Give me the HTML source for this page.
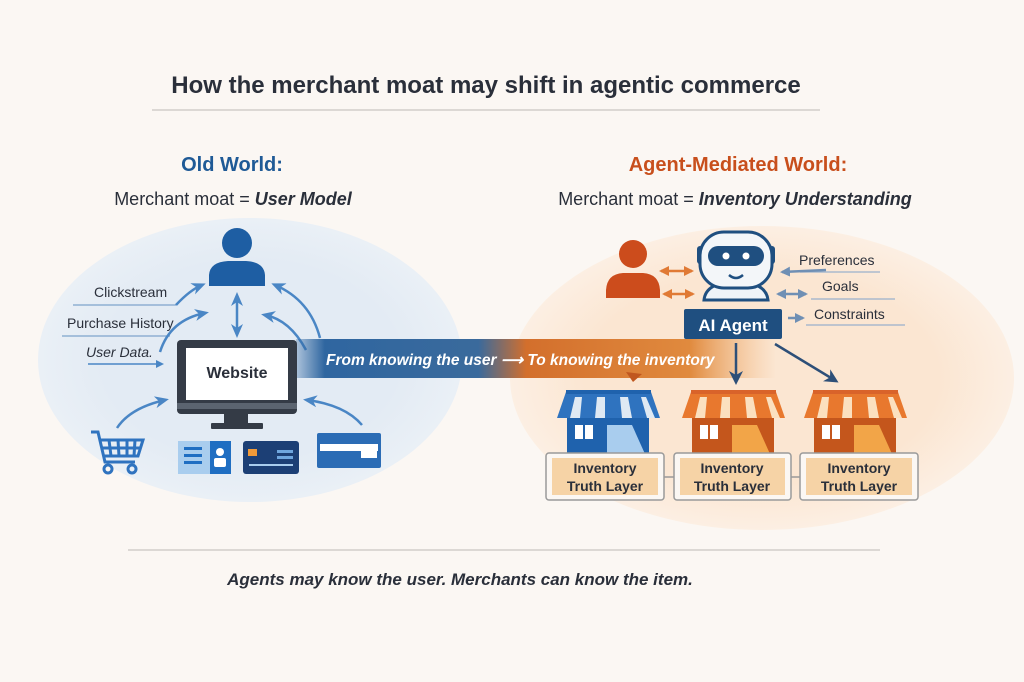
<!DOCTYPE html>
<html><head><meta charset="utf-8"><style>
html,body{margin:0;padding:0;background:#fbf7f3;}
svg{display:block;font-family:"Liberation Sans",sans-serif;}
</style></head><body>
<svg width="1024" height="682" viewBox="0 0 1024 682" xmlns="http://www.w3.org/2000/svg">
<defs>
<linearGradient id="band" x1="0" x2="1" y1="0" y2="0">
<stop offset="0" stop-color="#2f66a0" stop-opacity="0.3"/>
<stop offset="0.06" stop-color="#2f66a0"/>
<stop offset="0.38" stop-color="#3a6a9c"/>
<stop offset="0.48" stop-color="#d36f2c"/>
<stop offset="0.82" stop-color="#e08a3e"/>
<stop offset="1" stop-color="#f2b070" stop-opacity="0"/>
</linearGradient>
<radialGradient id="lg" cx="0.5" cy="0.5" r="0.5"><stop offset="0.7" stop-color="#e3ebf4"/><stop offset="1" stop-color="#eaf0f6"/></radialGradient>
<radialGradient id="rg" cx="0.5" cy="0.5" r="0.5"><stop offset="0.7" stop-color="#fbe6d2"/><stop offset="1" stop-color="#fcefe3"/></radialGradient>
<marker id="ab" markerWidth="8" markerHeight="8" refX="6" refY="4" orient="auto" markerUnits="userSpaceOnUse"><path d="M0,0 L8,4 L0,8 Z" fill="#4a86c5"/></marker>
<marker id="ab2" markerWidth="14" markerHeight="12" refX="10" refY="6" orient="auto-start-reverse" markerUnits="userSpaceOnUse"><path d="M0,0 L14,6 L0,12 L4,6Z" fill="#4a86c5"/></marker>
<marker id="ao" markerWidth="10" markerHeight="10" refX="8" refY="5" orient="auto-start-reverse" markerUnits="userSpaceOnUse"><path d="M0,0 L10,5 L0,10 Z" fill="#e07a35"/></marker>
<marker id="ag" markerWidth="10" markerHeight="10" refX="8" refY="5" orient="auto-start-reverse" markerUnits="userSpaceOnUse"><path d="M0,0 L10,5 L0,10 Z" fill="#6f8fb4"/></marker>
<marker id="ad" markerWidth="14" markerHeight="14" refX="11" refY="7" orient="auto" markerUnits="userSpaceOnUse"><path d="M0,0 L14,7 L0,14 L4,7Z" fill="#2d4f78"/></marker>
</defs>

<text x="486" y="93" text-anchor="middle" font-size="24" font-weight="bold" fill="#2a2f3a">How the merchant moat may shift in agentic commerce</text>
<line x1="152" y1="110" x2="820" y2="110" stroke="#c9c5c1" stroke-width="1.2"/>

<ellipse cx="250" cy="360" rx="212" ry="142" fill="url(#lg)"/>
<ellipse cx="762" cy="378" rx="252" ry="152" fill="url(#rg)"/>

<text x="232" y="171" text-anchor="middle" font-size="20" font-weight="bold" fill="#1f5a96">Old World:</text>
<text x="233" y="205" text-anchor="middle" font-size="18" fill="#2a2f3a">Merchant moat = <tspan font-weight="bold" font-style="italic">User Model</tspan></text>
<text x="738" y="171" text-anchor="middle" font-size="20" font-weight="bold" fill="#c84f1c">Agent-Mediated World:</text>
<text x="735" y="205" text-anchor="middle" font-size="18" fill="#2a2f3a">Merchant moat = <tspan font-weight="bold" font-style="italic">Inventory Understanding</tspan></text>

<circle cx="237" cy="243" r="15" fill="#1e5ea3"/>
<path d="M209,286 L209,275 Q210,262 228,261 L246,261 Q264,262 265,275 L265,286 Z" fill="#1e5ea3"/>

<text x="94" y="297" font-size="14" fill="#2a2f3a">Clickstream</text>
<line x1="73" y1="305" x2="176" y2="305" stroke="#7ea4cc" stroke-width="1.2"/>
<text x="67" y="328" font-size="14" fill="#2a2f3a">Purchase History</text>
<line x1="62" y1="336" x2="170" y2="336" stroke="#7ea4cc" stroke-width="1.2"/>
<text x="86" y="357" font-size="14" font-style="italic" fill="#2a2f3a">User Data.</text>
<line x1="88" y1="364" x2="162" y2="364" stroke="#4a86c5" stroke-width="1.5" marker-end="url(#ab)"/>

<g fill="none" stroke="#4a86c5" stroke-width="2.5">
<path d="M176,305 Q190,290 202,285" marker-end="url(#ab2)"/>
<path d="M160,352 Q170,320 205,313" marker-end="url(#ab2)"/>
<path d="M237,296 L237,334" marker-end="url(#ab2)" marker-start="url(#ab2)"/>
<path d="M306,350 Q290,320 265,315" marker-end="url(#ab2)"/>
<path d="M320,338 Q310,300 275,285" marker-end="url(#ab2)"/>
<path d="M117,428 Q130,408 165,400" marker-end="url(#ab2)"/>
<path d="M362,425 Q345,405 307,400" marker-end="url(#ab2)"/>
</g>

<rect x="296" y="339" width="480" height="39" fill="url(#band)"/>
<text x="326" y="365" font-size="15.5" font-weight="bold" font-style="italic" fill="#fff">From knowing the user ⟶ To knowing the inventory</text>

<rect x="177" y="340" width="120" height="74" rx="4" fill="#343b46"/>
<rect x="186" y="348" width="102" height="52" fill="#fff"/>
<rect x="177" y="403" width="120" height="6" fill="#5b6470"/>
<rect x="224" y="414" width="24" height="10" fill="#343b46"/>
<rect x="211" y="423" width="52" height="6" rx="1" fill="#343b46"/>
<text x="237" y="378" text-anchor="middle" font-size="16" font-weight="bold" fill="#2a2f3a">Website</text>

<g fill="none" stroke="#2f73bf" stroke-width="3">
<path d="M91,432 L98,432 L105,462 L135,462"/>
<path d="M100,440 L143,440 L138,456 L104,456"/>
<path d="M109,440 L111,456 M118,440 L119,456 M127,440 L127,456 M135,440 L134,456 M102,448 L141,448"/>
</g>
<circle cx="108" cy="469" r="4" fill="none" stroke="#2f73bf" stroke-width="3"/>
<circle cx="132" cy="469" r="4" fill="none" stroke="#2f73bf" stroke-width="3"/>
<rect x="178" y="441" width="53" height="33" fill="#a9cdee"/>
<rect x="210" y="441" width="21" height="33" fill="#1f6ec2"/>
<rect x="184" y="447" width="18" height="3" fill="#1f6ec2"/><rect x="184" y="454" width="18" height="3" fill="#1f6ec2"/><rect x="184" y="461" width="18" height="3" fill="#1f6ec2"/>
<circle cx="220" cy="452" r="4" fill="#fff"/><rect x="214" y="458" width="12" height="9" rx="2" fill="#fff"/>
<rect x="243" y="441" width="56" height="33" rx="3" fill="#1c3f75"/>
<rect x="248" y="449" width="9" height="7" fill="#f09a3a"/>
<rect x="277" y="450" width="16" height="3" fill="#6fa6de"/><rect x="277" y="456" width="16" height="3" fill="#6fa6de"/>
<rect x="249" y="464" width="44" height="2" fill="#a9cdee"/>
<rect x="317" y="433" width="64" height="35" rx="2" fill="#2b6cb5"/>
<rect x="320" y="444" width="58" height="7" fill="#fff"/>
<rect x="361" y="447" width="16" height="11" fill="#fff"/>

<circle cx="633" cy="254" r="14" fill="#cc4c1c"/>
<path d="M606,298 L606,290 Q607,274 623,273 L643,273 Q659,274 660,290 L660,298 Z" fill="#cc4c1c"/>
<g stroke="#e07a35" stroke-width="2.5">
<line x1="661" y1="271" x2="692" y2="271" marker-start="url(#ao)" marker-end="url(#ao)"/>
<line x1="664" y1="294" x2="693" y2="294" marker-start="url(#ao)" marker-end="url(#ao)"/>
</g>

<path d="M704,300 Q706,282 736,282 Q766,282 768,300 Z" fill="#eef3f8" stroke="#1f4f80" stroke-width="3"/>
<rect x="697" y="246" width="6" height="18" rx="3" fill="#1f4f80"/>
<rect x="769" y="246" width="6" height="18" rx="3" fill="#1f4f80"/>
<rect x="700" y="232" width="72" height="56" rx="24" fill="#f3f6f9" stroke="#1f4f80" stroke-width="3"/>
<rect x="708" y="246" width="56" height="20" rx="10" fill="#1f4f80"/>
<circle cx="726" cy="256" r="3.5" fill="#fff"/><circle cx="746" cy="256" r="3.5" fill="#fff"/>
<path d="M729,275 Q736,281 743,275" fill="none" stroke="#1f4f80" stroke-width="2.5"/>
<rect x="684" y="309" width="98" height="30" rx="2" fill="#1f4f80"/>
<text x="733" y="331" text-anchor="middle" font-size="17" font-weight="bold" fill="#fff">AI Agent</text>

<g font-size="14" fill="#2a2f3a">
<text x="799" y="265">Preferences</text>
<text x="822" y="291">Goals</text>
<text x="814" y="319">Constraints</text>
</g>
<g stroke="#9ab1cc" stroke-width="1.2">
<line x1="800" y1="272" x2="880" y2="272"/><line x1="811" y1="299" x2="895" y2="299"/><line x1="806" y1="325" x2="905" y2="325"/>
</g>
<g stroke="#6f8fb4" stroke-width="2.5">
<line x1="826" y1="270" x2="782" y2="272" marker-end="url(#ag)"/>
<line x1="778" y1="294" x2="806" y2="294" marker-start="url(#ag)" marker-end="url(#ag)"/>
<line x1="788" y1="318" x2="803" y2="318" marker-end="url(#ag)"/>
</g>
<g stroke="#2d4f78" stroke-width="2.5">
<line x1="736" y1="343" x2="736" y2="382" marker-end="url(#ad)"/>
<line x1="775" y1="344" x2="836" y2="381" marker-end="url(#ad)"/>
</g>
<path d="M626,372 L642,374 L633,382 Z" fill="#c0571f"/>

<rect x="567" y="417" width="82" height="37" fill="#1f62ad"/>
<rect x="575" y="425" width="18" height="14" fill="#fff"/><line x1="584" y1="425" x2="584" y2="439" stroke="#1f62ad" stroke-width="2"/>
<path d="M607,425 L632,425 L645,454 L607,454 Z" fill="#a9cdee"/>
<path d="M566,392 L651,392 L660,418 L557,418 Z" fill="#2f73bf"/>
<path d="M575,397 L582,397 L580,418 L570,418Z M597,397 L605,397 L605,418 L595,418Z M620,397 L628,397 L632,418 L622,418Z M641,397 L646,397 L655,418 L647,418Z" fill="#dfe9f3"/>
<rect x="566" y="390" width="85" height="4" fill="#1f62ad"/>
<rect x="692" y="417" width="82" height="37" fill="#c4561c"/>
<rect x="700" y="425" width="18" height="14" fill="#fff"/><line x1="709" y1="425" x2="709" y2="439" stroke="#c4561c" stroke-width="2"/>
<path d="M732,425 L757,425 L770,454 L732,454 Z" fill="#f2a548"/>
<path d="M691,392 L776,392 L785,418 L682,418 Z" fill="#e8782e"/>
<path d="M700,397 L707,397 L705,418 L695,418Z M722,397 L730,397 L730,418 L720,418Z M745,397 L753,397 L757,418 L747,418Z M766,397 L771,397 L780,418 L772,418Z" fill="#fbe0bf"/>
<rect x="691" y="390" width="85" height="4" fill="#d9632a"/>
<rect x="814" y="417" width="82" height="37" fill="#c4561c"/>
<rect x="822" y="425" width="18" height="14" fill="#fff"/><line x1="831" y1="425" x2="831" y2="439" stroke="#c4561c" stroke-width="2"/>
<path d="M854,425 L879,425 L892,454 L854,454 Z" fill="#f2a548"/>
<path d="M813,392 L898,392 L907,418 L804,418 Z" fill="#e8782e"/>
<path d="M822,397 L829,397 L827,418 L817,418Z M844,397 L852,397 L852,418 L842,418Z M867,397 L875,397 L879,418 L869,418Z M888,397 L893,397 L902,418 L894,418Z" fill="#fbe0bf"/>
<rect x="813" y="390" width="85" height="4" fill="#d9632a"/>

<line x1="664" y1="477" x2="674" y2="477" stroke="#999" stroke-width="1.5"/>
<line x1="791" y1="477" x2="800" y2="477" stroke="#999" stroke-width="1.5"/>
<g stroke="#9a9a9a" stroke-width="1.5" fill="#fbf7f3">
<rect x="546" y="453" width="118" height="47" rx="3"/>
<rect x="674" y="453" width="117" height="47" rx="3"/>
<rect x="800" y="453" width="118" height="47" rx="3"/>
</g>
<g fill="#f6d3a6">
<rect x="552" y="458" width="106" height="37"/><rect x="680" y="458" width="105" height="37"/><rect x="806" y="458" width="106" height="37"/>
</g>
<g font-size="14" font-weight="bold" fill="#2a2f3a" text-anchor="middle">
<text x="605" y="473">Inventory</text><text x="605" y="491">Truth Layer</text>
<text x="732" y="473">Inventory</text><text x="732" y="491">Truth Layer</text>
<text x="859" y="473">Inventory</text><text x="859" y="491">Truth Layer</text>
</g>

<line x1="128" y1="550" x2="880" y2="550" stroke="#c9c5c1" stroke-width="1.2"/>
<text x="460" y="585" text-anchor="middle" font-size="17" font-weight="bold" font-style="italic" fill="#2a2f3a">Agents may know the user.   Merchants can know the item.</text>
</svg>
</body></html>
